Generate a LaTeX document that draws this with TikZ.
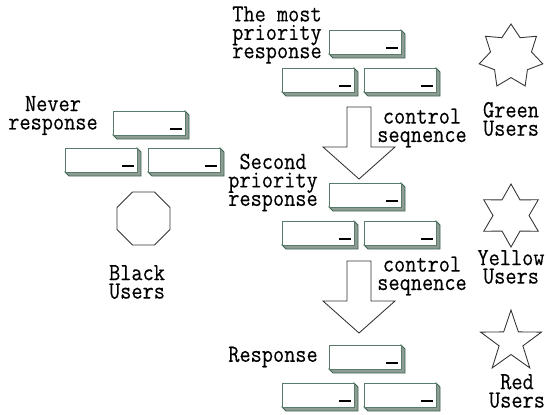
\documentclass[tikz,border=0pt]{standalone}
\usepackage{fontspec}
\newfontfamily\lblfont[FakeStretch=0.88,FakeBold=0.3]{Latin Modern Mono}
\lineskiplimit=-30pt
\tikzset{
  lbl/.style={font=\lblfont\fontsize{18.5}{13.8}\selectfont, inner sep=0pt, align=center, text=black},
  outline/.style={draw=black!80, line width=0.65pt, fill=white},
  face/.style={draw=boxface, line width=0.7pt, fill=white},
  bevel/.style={draw=boxedge, line width=0.7pt, fill=boxbevel}
}
\definecolor{boxedge}{HTML}{3C6450}
\definecolor{boxface}{HTML}{587C6A}
\definecolor{boxbevel}{HTML}{8E9C94}
% \boxunit{x}{y}: raised box whose top-left corner is at pixel (x,y)
\newcommand{\boxunit}[2]{%
  \begin{scope}[shift={(#1,#2)}]
    \draw[bevel] (0,24) -- (4,28) -- (76,28) -- (76,4) -- (72,0) -- (72,24) -- cycle;
    \draw[face] (0,0) rectangle (72,24);
    \draw[black, line width=1.2pt] (57,18) -- (69,18);
  \end{scope}}
\newcommand{\boxtrio}[2]{\boxunit{#1}{#2}\boxunit{#1-47}{#2+38}\boxunit{#1+35}{#2+38}}
\newcommand{\bigarrow}[1]{%
  \draw[outline] (347,#1) -- (371,#1) -- (371,#1+40) -- (395,#1+40) -- (359,#1+72) -- (323,#1+40) -- (347,#1+40) -- cycle;}
\begin{document}
\begin{tikzpicture}[x=0.75pt,y=-0.75pt]
\useasboundingbox (0,0) rectangle (546,414);
\boxtrio{329}{30}
\boxtrio{329}{183}
\boxtrio{329}{345}
\boxunit{113}{111}\boxunit{65}{148}\boxunit{148}{148}
\bigarrow{107}
\bigarrow{261}
% stars
\draw[outline] plot[samples at={0,...,13}] ({511+(mod(\x,2)==0?32.6:21)*sin(\x*180/7)},{56.6-(mod(\x,2)==0?32.6:21)*cos(\x*180/7)}) -- cycle;
\draw[outline] plot[samples at={0,...,11}] ({511+(mod(\x,2)==0?31.5:18)*sin(\x*30)},{215.5-(mod(\x,2)==0?31.5:18)*cos(\x*30)}) -- cycle;
\draw[outline] plot[samples at={0,...,9}] ({511+(mod(\x,2)==0?32:12.5)*sin(\x*36)},{342-(mod(\x,2)==0?32:12.5)*cos(\x*36)}) -- cycle;
\draw[outline] plot[samples at={0,...,7}] ({143.5+28.7*sin(22.5+\x*45)},{218.5-28.7*cos(22.5+\x*45)}) -- cycle;
% labels
\node[lbl] (t1) at (277,35) {The most\\priority\\response};
\node[lbl] (t2) at (53,115.5) {Never\\response};
\node[lbl] (t3) at (273,182.5) {Second\\priority\\response};
\node[lbl] (t4) at (273,357) {Response};
\node[lbl] (c1) at (422,128) {control\\seqnence};
\node[lbl] (c2) at (422,276) {control\\seqnence};
\node[lbl] (u1) at (511,119) {Green\\Users};
\node[lbl] (u2) at (511,267) {Yellow\\Users};
\node[lbl] (u3) at (517,391) {Red\\Users};
\node[lbl] (u4) at (137,282) {Black\\Users};
\end{tikzpicture}
\end{document}
